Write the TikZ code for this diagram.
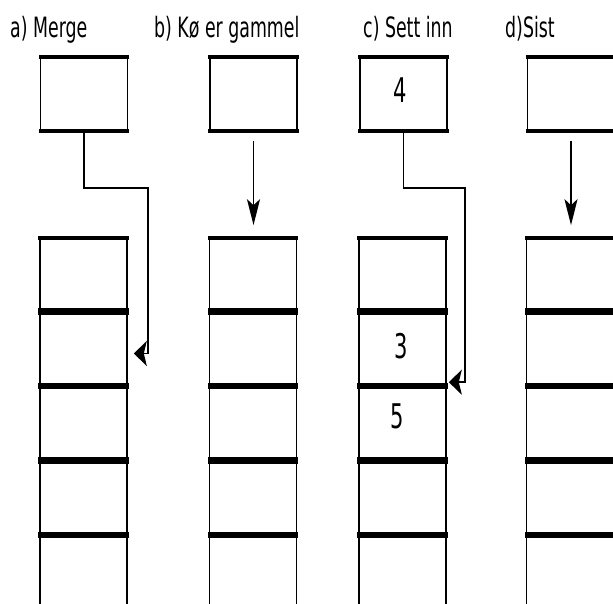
\documentclass[tikz,border=0pt]{standalone}
\usepackage{fontspec}
\setmainfont{DejaVu Sans}[FakeStretch=0.62]
\usetikzlibrary{arrows.meta,positioning}

\begin{document}
\begin{tikzpicture}[
  x=1pt, y=-1pt,
  tag/.style={anchor=base west, inner sep=0pt, font=\fontsize{28}{32}\selectfont},
  num/.style={inner sep=0pt, font=\fontsize{34}{38}\selectfont},
  rim/.style={line width=3.6pt, line cap=butt, shorten <=-0.8pt, shorten >=-0.8pt},
  slot/.style={draw, line width=1.6pt, minimum width=87pt, minimum height=72pt,
               inner sep=0pt,
               append after command={
                 (\tikzlastnode.north west) edge[rim] (\tikzlastnode.north east)
                 (\tikzlastnode.south west) edge[rim] (\tikzlastnode.south east)}},
  cell/.style={slot, minimum height=70pt},
  vlink/.style={line width=1.8pt, -{Stealth[length=26pt, width=13pt, inset=6pt]}},
  hlink/.style={line width=1.8pt, -{Stealth[length=13pt, width=25pt, inset=3pt]}},
]
  \useasboundingbox (0,0) rectangle (613,604);
  \clip (0,0) rectangle (613,604);

  % headings
  \node[tag] (taga) at (10,38) {a) Merge};
  \node[tag] (tagb) at (154,38) {b) Kø er gammel};
  \node[tag] (tagc) at (363,38) {c) Sett inn};
  \node[tag] (tagd) at (505,38) {d)Sist};

  % the new element on top
  \node[slot] (topa) at (84,94) {};
  \node[slot] (topb) at (253.5,94) {};
  \node[slot] (topc) at (403.5,94) {};
  \node[slot] (topd) at (571,94) {};

  % the queue, five cells per column
  \foreach \col/\x in {a/83.5, b/253, c/402.5, d/570}
    \foreach \r in {1,...,5}
      \node[cell] (\col\r) at (\x, {274+74.5*(\r-1)}) {};

  \node[num] (four) at (400,90) {4};
  \node[num] (three) at (401,346) {3};
  \node[num] (five) at (397,416) {5};

  % where the element goes
  \coordinate (abend) at (148,188);
  \draw[hlink] (topa.south) |- (abend) |- ([shift={(6,5)}]a2.east);
  \draw[vlink, shorten <=10pt, shorten >=13pt] (topb.south) -- (topb.south |- b1.north);
  \coordinate (cbend) at (465,188);
  \draw[hlink] (topc.south) |- (cbend) |- ([shift={(2,-5)}]c3.north east);
  \draw[vlink, shorten <=10pt, shorten >=13pt] (topd.south) -- (topd.south |- d1.north);
\end{tikzpicture}
\end{document}
